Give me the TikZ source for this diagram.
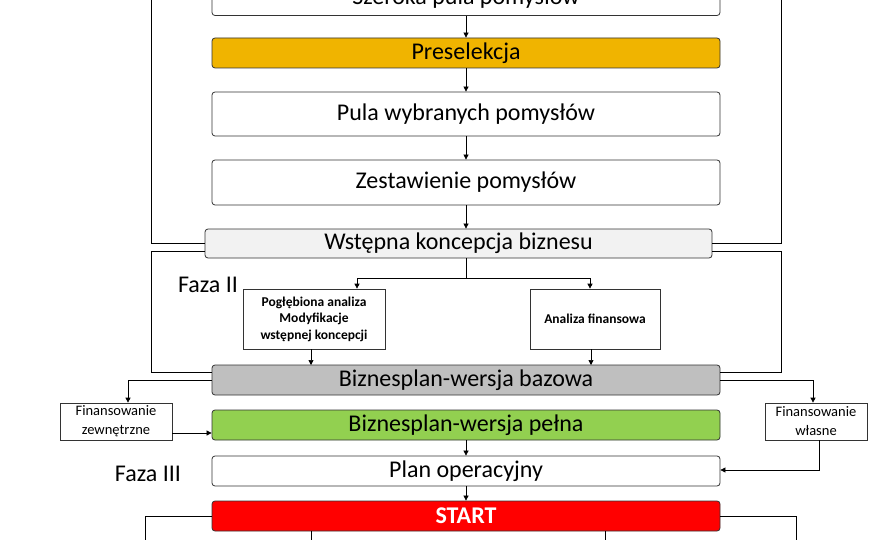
\documentclass[tikz,border=0pt]{standalone}
\usepackage{fontspec}
\setmainfont{Carlito}
\usetikzlibrary{arrows.meta}
\begin{document}
\begin{tikzpicture}[x=1pt,y=-1pt,
  bx/.style={draw=black!80,line width=0.8pt,rounded corners=3pt,minimum width=508pt,inner sep=0pt,font=\fontsize{24}{26}\selectfont},
  sb/.style={draw=black!80,line width=0.7pt,inner sep=0pt,align=center},
  ar/.style={-{Triangle[length=5pt,width=5pt]},line width=0.7pt},
  ln/.style={line width=0.7pt}]
\useasboundingbox (0,0) rectangle (880,540);
\clip (0,0) rectangle (880,540);
\fill[white] (0,0) rectangle (880,540);
% main column
\node[bx,minimum height=35pt] (sz) at (466,-2) {Szeroka pula pomysłów};
\node[bx,minimum height=30pt,fill={rgb,255:red,240;green,180;blue,0}] (pre) at (466,53) {Preselekcja};
\node[bx,minimum height=44pt] (pula) at (466,114) {Pula wybranych pomysłów};
\node[bx,minimum height=45pt] (zest) at (466,182.5) {Zestawienie pomysłów};
\node[bx,minimum height=29pt,minimum width=507pt,fill={rgb,255:red,242;green,242;blue,242}] (wst) at (458.5,243.5) {Wstępna koncepcja biznesu};
\node[sb,minimum width=142pt,minimum height=60pt,font=\bfseries\fontsize{13.5}{16.5}\selectfont] (pog) at (314,319) {Pogłębiona analiza\\Modyfikacje\\wstępnej koncepcji};
\node[sb,minimum width=130pt,minimum height=60pt,font=\bfseries\fontsize{13.5}{16.5}\selectfont] (fin) at (595,319) {Analiza finansowa};
\node[bx,minimum height=30pt,fill={rgb,255:red,191;green,191;blue,191}] (baz) at (466,380) {Biznesplan-wersja bazowa};
\node[sb,minimum width=112pt,minimum height=37pt,font=\fontsize{14.5}{19}\selectfont] (zew) at (116,421.5) {Finansowanie\\zewnętrzne};
\node[sb,minimum width=102pt,minimum height=37pt,font=\fontsize{14.5}{19}\selectfont] (wl) at (816,421.5) {Finansowanie\\własne};
\node[bx,minimum height=30pt,fill={rgb,255:red,146;green,208;blue,80}] (pel) at (466,425) {Biznesplan-wersja pełna};
\node[bx,minimum height=30pt] (plan) at (466,471) {Plan operacyjny};
\node[bx,minimum height=30pt,fill=red,text=white,font=\bfseries\fontsize{24}{26}\selectfont] (st) at (466,516) {START};
\node[font=\fontsize{24}{26}\selectfont] (f2) at (208,285) {Faza II};
\node[font=\fontsize{24}{26}\selectfont] (f3) at (148,474) {Faza III};
% arrows
\draw[ar] (sz) -- (pre);
\draw[ar] (pre) -- (pula);
\draw[ar] (pula) -- (zest);
\draw[ar] (zest.south) -- (zest.south|-wst.north);
\draw[ln] (wst.south-|466,0) -- (466,278);
\draw[ar] (466,278) |- (357,278) -- (pog.north-|357,0);
\draw[ar] (466,278) -- (590,278) -- (fin.north-|590,0);
\draw[ar] (pog.south-|311,0) -- (311,365);
\draw[ar] (fin.south-|591,0) -- (591,365);
\draw[ar] (pel.south) -- (plan.north);
\draw[ar] (plan.south) -- (st.north);
% frames
\draw[ln] (wst.west|-0,243) -- (151,243) -- (151,-5);
\draw[ln] (wst.east|-0,243) -- (781,243) -- (781,-5);
\draw[ln] (wst.west|-0,251) -- (151,251) -- (151,372) -- (baz.west|-0,372);
\draw[ln] (wst.east|-0,251) -- (781,251) -- (781,372) -- (baz.east|-0,372);
% financing
\draw[ar] (baz.west) -- (128,380) -- (zew.north-|128,0);
\draw[ar] (baz.east) -- (813,380) -- (wl.north-|813,0);
\draw[ar] (zew.east|-0,433) -- (pel.west|-0,433);
\draw[ar] (wl.south-|819,0) -- (819,470) -- (plan.east|-0,470);
% bottom
\draw[ln] (st.west) -- (145,516) -- (145,545);
\draw[ln] (st.east) -- (796,516) -- (796,545);
\draw[ar] (st.south-|311,0) -- (311,545);
\draw[ar] (st.south-|605,0) -- (605,545);
\end{tikzpicture}
\end{document}
